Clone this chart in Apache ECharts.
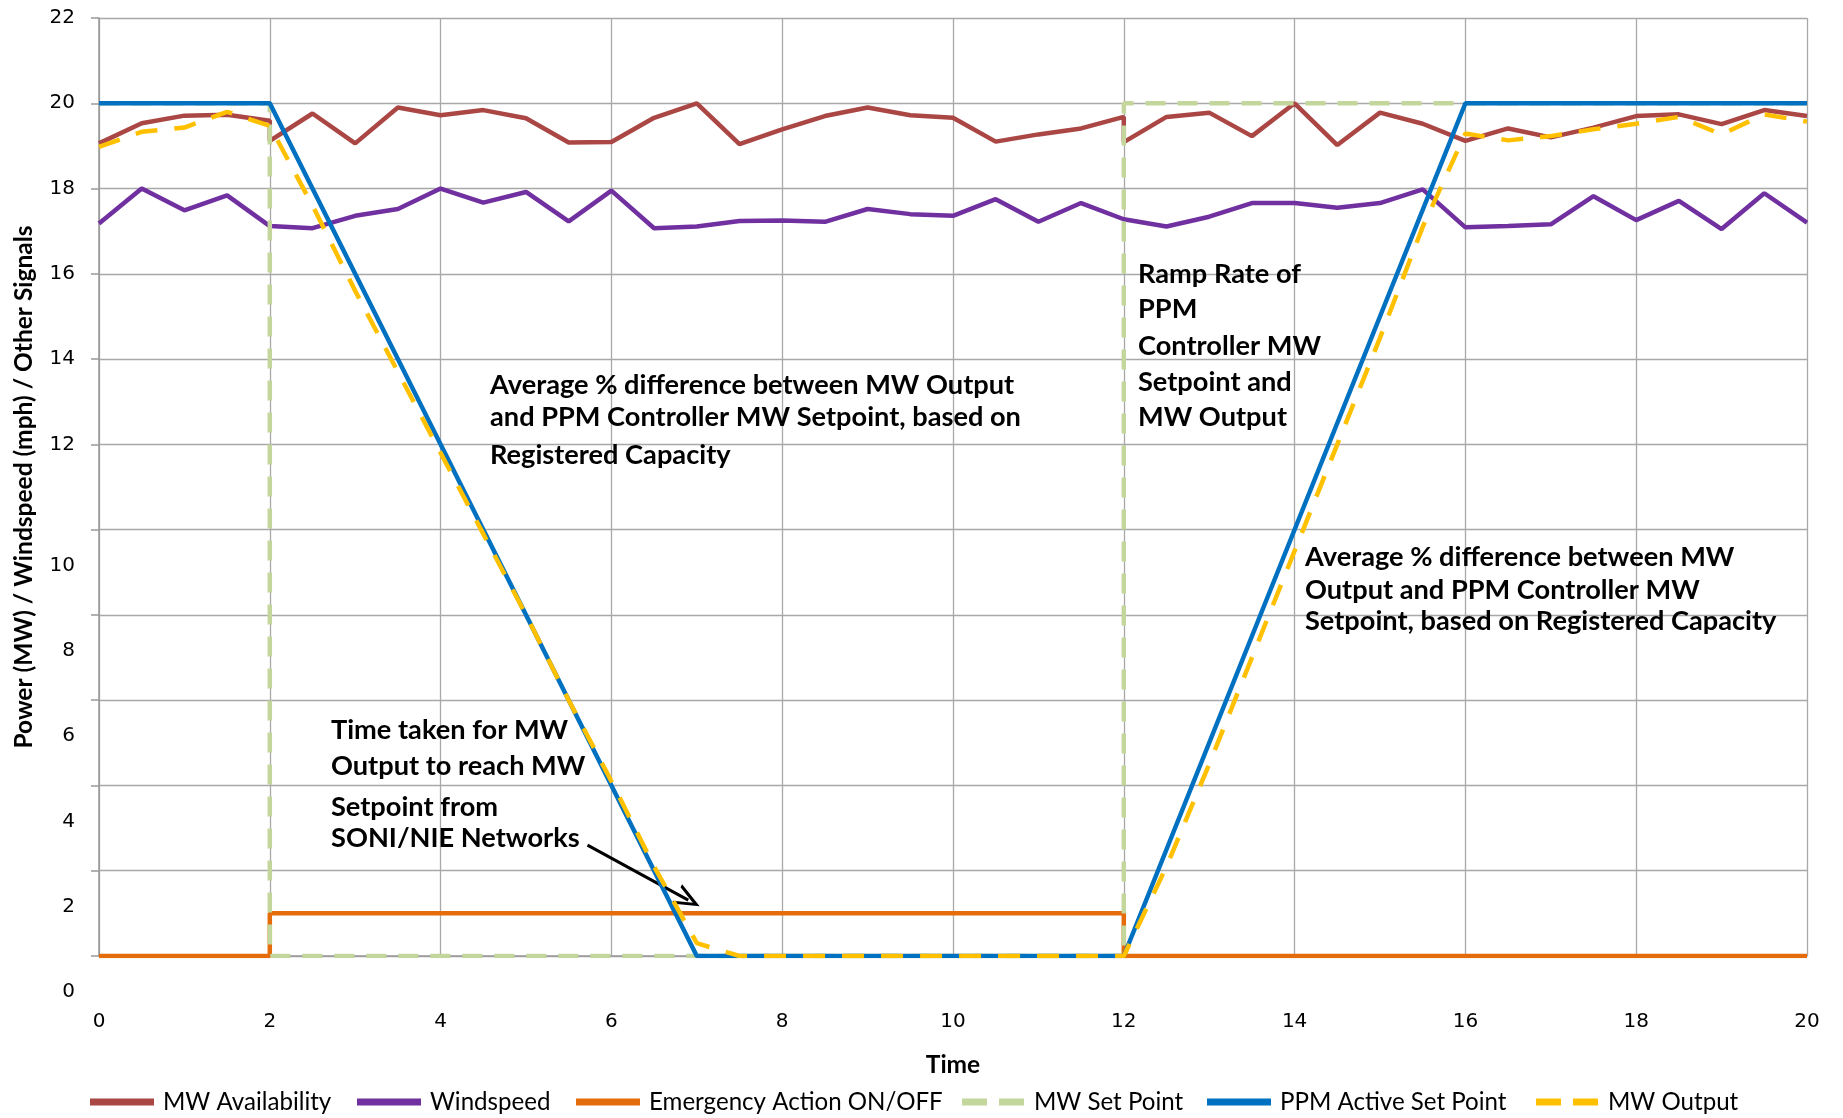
<!DOCTYPE html>
<html>
<head>
<meta charset="utf-8">
<script src="https://cdn.jsdelivr.net/npm/echarts@6/dist/echarts.min.js"></script>
<style>html,body{margin:0;padding:0;background:#fff}#chart{width:1843px;height:1118px}</style>
</head>
<body>
<div id="chart"></div>
<script>
// ---- data ----
const availTime = [0,0.5,1,1.5,2,2,2.5,3,3.5,4,4.5,5,5.5,6,6.5,7,7.5,8,8.5,9,9.5,10,10.5,11,11.5,12,12,12.5,13,13.5,14,14.5,15,15.5,16,16.5,17,17.5,18,18.5,19,19.5,20];
const availability = [19.06,19.53,19.71,19.73,19.59,19.12,19.76,19.06,19.9,19.72,19.84,19.65,19.08,19.09,19.66,20.0,19.04,19.39,19.70,19.9,19.72,19.66,19.10,19.27,19.41,19.68,19.09,19.68,19.78,19.23,20.0,19.02,19.78,19.52,19.12,19.41,19.2,19.43,19.70,19.74,19.51,19.84,19.70];
const time = [0,0.5,1,1.5,2,2.5,3,3.5,4,4.5,5,5.5,6,6.5,7,7.5,8,8.5,9,9.5,10,10.5,11,11.5,12,12.5,13,13.5,14,14.5,15,15.5,16,16.5,17,17.5,18,18.5,19,19.5,20];
const windspeed = [17.18,18.0,17.49,17.84,17.12,17.07,17.36,17.52,18.0,17.67,17.92,17.23,17.95,17.07,17.11,17.24,17.25,17.22,17.52,17.40,17.36,17.75,17.22,17.66,17.28,17.11,17.34,17.66,17.66,17.55,17.66,17.98,17.09,17.12,17.16,17.82,17.26,17.71,17.05,17.89,17.20];
const mwOutput = [18.98,19.33,19.43,19.8,19.47,17.6,15.6,13.7,11.8,9.9,8.0,6.0,4.1,2.1,0.3,0,0,0,0,0,0,0,0,0,0,2.1,4.5,7.0,9.5,12.0,14.5,17.1,19.29,19.13,19.23,19.39,19.52,19.68,19.27,19.74,19.57];
const emergencyTime = [0,2,2,12,12,20];
const emergency = [0,0,1,1,0,0];
const setPointTime = [0,2,2,12,12,20];
const setPoint = [20,20,0,0,20,20];
const ppmTime = [0,2,7,12,16,20];
const ppmSetPoint = [20,20,0,0,20,20];
const arrowFrom = [5.72, 2.60];
const arrowTo = [6.90, 1.31];
const seriesNames = ['MW Availability','Windspeed','Emergency Action ON/OFF','MW Set Point','PPM Active Set Point','MW Output'];
const seriesColors = ['#AA4643','#7030A0','#E46C0A','#C3D69B','#0070C0','#FFC000'];
const yTicks = {min:0, max:22, interval:2};
const xTicks = {min:0, max:20, interval:2};
const xTitle = 'Time';
const yTitle = 'Power (MW) / Windspeed (mph) / Other Signals';
const notes = [
  {lines:['Average % difference between MW Output','and PPM Controller MW Setpoint, based on','Registered Capacity'], x:490, ys:[385,417,455]},
  {lines:['Ramp Rate of','PPM','Controller MW','Setpoint and','MW Output'], x:1138, ys:[274,309,346,382,417]},
  {lines:['Time taken for MW','Output to reach MW','Setpoint from','SONI/NIE Networks'], x:331, ys:[730,766,807,838]},
  {lines:['Average % difference between MW','Output and PPM Controller MW','Setpoint, based on Registered Capacity'], x:1305, ys:[557,590,621]}
];
const legendLeft = [90, 357, 576, 962, 1207, 1536];

const zip = (xs, ys) => xs.map((x,i)=>[x, ys[i]]);

function fitSize(text, family, weight, target){
  const c = document.createElement('canvas').getContext('2d');
  c.font = weight + ' 100px ' + family;
  return Math.round(100 * target / c.measureText(text).width * 10) / 10;
}
const FAM = 'Lato, "Open Sans", sans-serif';
const annSize = fitSize('Average % difference between MW Output', 'Lato', 'bold', 525);
const legSize = fitSize('MW Availability', 'Lato', 'normal', 168);
const titleSize = fitSize(yTitle, 'Lato', 'bold', 523);

const graphics = [];
notes.forEach(n => n.lines.forEach((t,i) => graphics.push({
  type:'text', x:n.x, y:n.ys[i], z:100,
  style:{text:t, fill:'#000', font:'bold '+annSize+'px '+FAM, verticalAlign:'middle', align:'left'}
})));

const solidIcon = 'path://M0,0 H64 V7 H0 Z';
const dashIcon = 'path://M0,0 H25 V7 H0 Z M37,0 H62 V7 H37 Z';
const dashed = [false,false,false,true,false,true];
const legends = seriesNames.map((n,i) => ({
  left:legendLeft[i], top:1090, itemWidth:64, itemHeight:7, padding:0,
  itemStyle:{borderWidth:0},
  textStyle:{fontFamily:FAM, fontSize:legSize, color:'#000', padding:[0,0,0,4]},
  data:[{name:n, icon: dashed[i] ? dashIcon : solidIcon}]
}));

const tickFont = {fontFamily:'"DejaVu Sans"', fontSize:20, color:'#000'};
const lw = 4.5;

const option = {
  animation:false,
  backgroundColor:'#fff',
  grid:{left:99, right:36, top:18, bottom:162, containLabel:false},
  xAxis:{
    type:'value', min:xTicks.min, max:xTicks.max, interval:xTicks.interval,
    name:xTitle, nameLocation:'middle', nameGap:97,
    nameTextStyle:{fontFamily:FAM, fontWeight:'bold', fontSize:titleSize, color:'#000'},
    axisLine:{show:true, lineStyle:{color:'#999', width:1.5}},
    axisTick:{show:false},
    axisLabel:Object.assign({margin:56}, tickFont),
    splitLine:{show:true, lineStyle:{color:'#a8a8a8', width:1.3}}
  },
  yAxis:{
    type:'value', min:yTicks.min, max:yTicks.max, interval:yTicks.interval,
    name:yTitle, nameLocation:'middle', nameGap:62, nameRotate:90,
    nameTextStyle:{fontFamily:FAM, fontWeight:'bold', fontSize:titleSize, color:'#000'},
    axisLine:{show:true, lineStyle:{color:'#999', width:1.5}},
    axisTick:{show:true, length:8, lineStyle:{color:'#999', width:1.5}},
    axisLabel:Object.assign({margin:24,
      formatter: v => v <= 10 ? '{lo|' + v + '}' : '{hi|' + v + '}',
      rich:{
        lo:{padding:[72,0,0,0], fontFamily:'"DejaVu Sans"', fontSize:20, color:'#000'},
        hi:{fontFamily:'"DejaVu Sans"', fontSize:20, color:'#000'}
      }}, tickFont),
    splitLine:{show:true, lineStyle:{color:'#a8a8a8', width:1.3}}
  },
  legend:legends,
  graphic:graphics,
  series:[
    {name:seriesNames[0], type:'line', data:zip(availTime, availability), symbol:'none', color:seriesColors[0],
     lineStyle:{width:lw, color:seriesColors[0]}, z:2},
    {name:seriesNames[1], type:'line', data:zip(time, windspeed), symbol:'none', color:seriesColors[1],
     lineStyle:{width:lw, color:seriesColors[1]}, z:3},
    {name:seriesNames[2], type:'line', data:zip(emergencyTime, emergency), symbol:'none', color:seriesColors[2],
     lineStyle:{width:lw, color:seriesColors[2]}, z:4},
    {name:seriesNames[3], type:'line', data:zip(setPointTime, setPoint), symbol:'none', color:seriesColors[3],
     lineStyle:{width:lw, color:seriesColors[3], type:[20,12]}, z:5},
    {name:seriesNames[4], type:'line', data:zip(ppmTime, ppmSetPoint), symbol:'none', color:seriesColors[4],
     lineStyle:{width:lw, color:seriesColors[4]}, z:6},
    {name:seriesNames[5], type:'line', data:zip(time, mwOutput), symbol:'none', color:seriesColors[5],
     lineStyle:{width:lw, color:seriesColors[5], type:[22,17]}, z:7,
     markLine:{silent:true, animation:false,
       symbol:['none','path://M0,20 L10,0 L20,20 L17,20 L10,6 L3,20 Z'], symbolSize:[22,26],
       lineStyle:{color:'#000', width:3, type:'solid'}, label:{show:false},
       data:[[{coord:arrowFrom},{coord:arrowTo}]]}}
  ]
};
const chart = echarts.init(document.getElementById('chart'), null, {renderer:'canvas'});
chart.setOption(option);
</script>
</body>
</html>
